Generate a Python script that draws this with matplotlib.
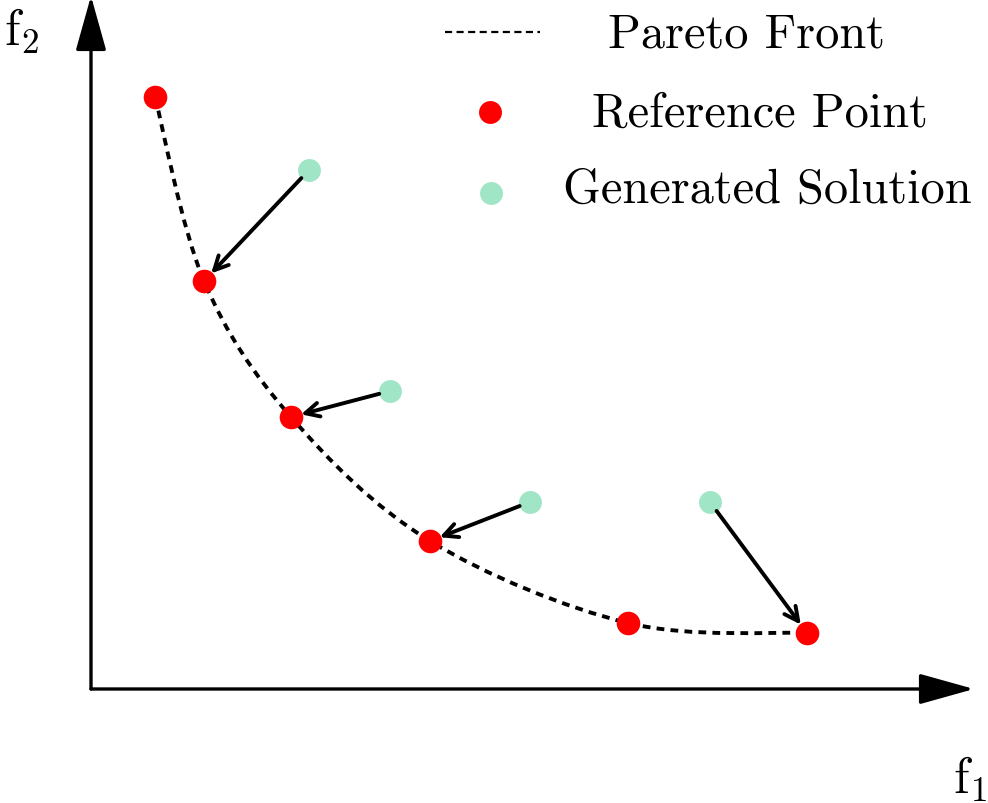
import matplotlib
matplotlib.use("Agg")
import matplotlib.pyplot as plt
from matplotlib.patches import FancyArrowPatch, PathPatch
from matplotlib.path import Path
import numpy as np

# ---- data (f1, f2 units) ----
ref_f1 = [0.64, 1.13, 2.00, 3.39, 5.37, 7.16]
ref_f2 = [5.92, 4.08, 2.72, 1.48, 0.66, 0.56]
gen_f1 = [2.18, 2.99, 4.39, 6.19]
gen_f2 = [5.19, 2.98, 1.87, 1.87]
gen_target = [1, 2, 3, 5]          # index of reference point each solution points to
legend_labels = ["Pareto Front", "Reference Point", "Generated Solution"]
axis_labels = [r"$\mathrm{f}_1$", r"$\mathrm{f}_2$"]

RED = "#ff0000"
GREEN = "#a0e6c6"

W, H = 988, 804
fig = plt.figure(figsize=(W / 100, H / 100), dpi=100)
ax = fig.add_axes([0, 0, 1, 1])
ax.set_xlim(-0.91, 8.97)
ax.set_ylim(-1.14, 6.90)
ax.axis("off")
plt.rcParams["mathtext.fontset"] = "cm"

def fx(px):
    return px / W

def fy(py):
    return 1 - py / H

# ---- axes with arrows ----
for end in [(8.83, 0.0), (0.0, 6.93)]:
    a = FancyArrowPatch((0, 0), end, arrowstyle="-|>,head_length=34,head_width=9.5",
                        mutation_scale=1, lw=2.4, color="black", shrinkA=0, shrinkB=0,
                        zorder=2)
    ax.add_patch(a)

# ---- Pareto front: smooth curve through reference points ----
pts = np.column_stack([ref_f1, ref_f2])
ext = np.vstack([pts[0], pts, pts[-1]])
verts = [tuple(pts[0])]
codes = [Path.MOVETO]
for i in range(len(pts) - 1):
    p0, p1, p2, p3 = ext[i], ext[i + 1], ext[i + 2], ext[i + 3]
    c1 = p1 + (p2 - p0) / 6
    c2 = p2 - (p3 - p1) / 6
    verts += [tuple(c1), tuple(c2), tuple(p2)]
    codes += [Path.CURVE4] * 3
curve = PathPatch(Path(verts, codes), fill=False, lw=2.8, color="black",
                  linestyle=(0, (2.0, 1.6)), zorder=3)
ax.add_patch(curve)

# ---- points ----
ax.plot(ref_f1, ref_f2, "o", color=RED, ms=17, mew=0, zorder=4)
ax.plot(gen_f1, gen_f2, "o", color=GREEN, ms=16.5, mew=0, zorder=4)

# ---- arrows from generated solutions to reference points ----
for gx, gy, t in zip(gen_f1, gen_f2, gen_target):
    a = FancyArrowPatch((gx, gy), (ref_f1[t], ref_f2[t]),
                        arrowstyle="->,head_length=10,head_width=5", mutation_scale=1,
                        lw=2.8, color="black", shrinkA=8, shrinkB=7.5, zorder=5)
    ax.add_patch(a)

# ---- axis labels ----
fig.text(fx(953), fy(793), axis_labels[0], fontsize=36, ha="left", va="baseline")
fig.text(fx(4), fy(45), axis_labels[1], fontsize=36, ha="left", va="baseline")

# ---- legend (manual) ----
fig.add_artist(plt.Line2D([fx(445), fx(540)], [fy(33), fy(33)], color="black", lw=1.6,
                          linestyle=(0, (3.2, 2.0))))
fig.add_artist(plt.Line2D([fx(490)], [fy(113)], marker="o", color=RED, ms=16.5, mew=0))
fig.add_artist(plt.Line2D([fx(491)], [fy(194)], marker="o", color=GREEN, ms=16.5, mew=0))
legend_pos = [(608, 48), (592, 127), (563, 203)]
for lab, (x, y) in zip(legend_labels, legend_pos):
    fig.text(fx(x), fy(y), lab, family="cmr10", fontsize=34.8, ha="left", va="baseline")

fig.savefig("out.png", dpi=100)
